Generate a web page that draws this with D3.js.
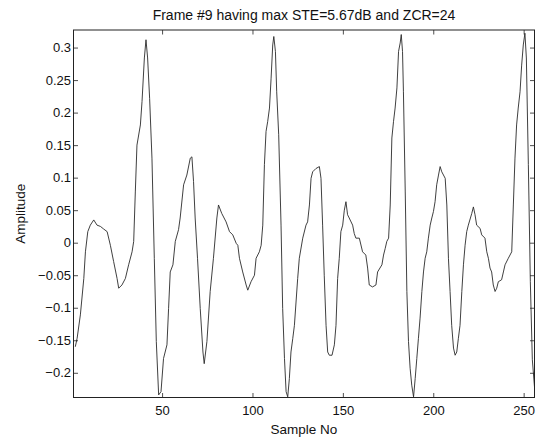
<!DOCTYPE html>
<html>
<head>
<meta charset="utf-8">
<script src="https://cdn.jsdelivr.net/npm/d3@7"></script>
<style>
  html, body { margin: 0; padding: 0; background: #fff; }
  svg { display: block; }
  text { font-family: "Liberation Sans", Arial, Helvetica, sans-serif; fill: #111; }
</style>
</head>
<body>
<svg id="chart" width="542" height="438"></svg>
<script>
// ---- data ----
const titleText = "Frame #9 having max STE=5.67dB and ZCR=24";
const xLabelText = "Sample No";
const yLabelText = "Amplitude";
const xTicks = [50, 100, 150, 200, 250];
const yTicks = [-0.2, -0.15, -0.1, -0.05, 0, 0.05, 0.1, 0.15, 0.2, 0.25, 0.3];
const xDomain = [1, 256];
const yDomain = [-0.238, 0.327];

const sampleNo = [
  2.0, 3.0, 4.8, 6.7, 7.6, 8.9, 10.3, 12.2, 14.0, 15.9, 17.7, 19.6, 21.4, 23.2, 25.1, 26.0,
  27.8, 29.7, 31.5, 33.4, 34.3, 35.2, 36.1, 38.0, 38.9, 40.2, 41.1, 42.0, 43.1, 44.4, 45.7,
  46.8, 48.1, 49.4, 50.8, 52.7, 53.6, 54.5, 56.0, 57.3, 59.1, 60.0, 61.9, 63.7, 65.6, 66.5,
  67.4, 68.3, 69.6, 71.1, 72.6, 73.3, 74.8, 76.6, 78.4, 80.3, 81.2, 83.0, 85.4, 87.3, 89.1,
  91.0, 91.9, 92.8, 94.6, 96.5, 97.4, 99.2, 101.1, 102.0, 103.8, 104.8, 105.7, 106.6, 107.5,
  108.4, 109.4, 110.3, 111.2, 111.8, 112.7, 113.4, 114.5, 115.8, 116.7, 117.7, 118.6, 119.5,
  120.4, 121.3, 122.3, 123.2, 125.0, 125.9, 127.8, 129.6, 130.5, 131.5, 132.4, 133.3, 135.1,
  137.0, 137.9, 138.8, 139.7, 140.7, 141.6, 142.5, 144.0, 145.3, 146.2, 147.1, 148.0, 148.9,
  149.9, 150.8, 151.7, 152.6, 153.5, 155.4, 156.3, 157.2, 159.1, 160.9, 162.7, 163.7, 164.6,
  166.4, 168.3, 169.2, 171.6, 172.5, 173.4, 174.3, 175.3, 176.2, 177.1, 178.0, 178.9, 179.9,
  180.8, 181.7, 182.3, 183.0, 183.5, 184.5, 185.4, 186.3, 187.2, 188.1, 189.1, 190.0, 190.9,
  191.8, 192.7, 193.7, 194.6, 195.5, 196.4, 197.3, 198.3, 199.2, 200.1, 201.0, 201.9, 202.9,
  203.8, 204.7, 206.6, 207.5, 208.4, 209.3, 210.2, 211.2, 212.1, 213.0, 213.9, 214.8, 215.8,
  216.7, 217.6, 218.5, 219.4, 221.3, 222.2, 223.1, 224.0, 225.9, 226.8, 228.6, 229.6, 230.5,
  231.4, 232.3, 233.2, 234.2, 235.1, 236.0, 237.8, 238.8, 239.7, 241.5, 243.4, 244.3, 245.2,
  246.1, 247.0, 248.0, 248.9, 249.8, 250.7, 251.5, 252.6, 253.7, 254.8, 256.0
];
const amplitude = [
  -0.160, -0.147, -0.111, -0.055, -0.014, 0.017, 0.027, 0.035, 0.027, 0.025, 0.021, 0.017, -0.004, -0.029, -0.055, -0.070,
  -0.065, -0.055, -0.034, -0.014, 0.002, 0.078, 0.150, 0.181, 0.217, 0.284, 0.312, 0.284, 0.222, 0.130, -0.024,
  -0.152, -0.234, -0.229, -0.178, -0.157, -0.101, -0.045, -0.034, 0.002, 0.020, 0.038, 0.089, 0.104, 0.130, 0.132,
  0.094, 0.038, -0.024, -0.101, -0.168, -0.186, -0.152, -0.075, -0.024, 0.038, 0.058, 0.045, 0.032, 0.017, 0.012,
  -0.001, -0.004, -0.024, -0.045, -0.065, -0.073, -0.060, -0.050, -0.024, -0.014, -0.004, 0.027, 0.120, 0.171,
  0.186, 0.207, 0.253, 0.304, 0.317, 0.294, 0.232, 0.166, 0.027, -0.101, -0.178, -0.229, -0.237,
  -0.209, -0.168, -0.147, -0.127, -0.055, -0.024, 0.007, 0.027, 0.032, 0.058, 0.099, 0.109, 0.114,
  0.117, 0.099, 0.027, -0.050, -0.127, -0.168, -0.173, -0.173, -0.157, -0.127, -0.055, -0.024, 0.017,
  0.027, 0.050, 0.063, 0.043, 0.038, 0.027, 0.014, 0.007, 0.007, -0.014, -0.019, -0.039, -0.065,
  -0.068, -0.065, -0.045, -0.034, -0.019, -0.009, 0.002, 0.007, 0.058, 0.161, 0.186, 0.207, 0.238,
  0.294, 0.307, 0.320, 0.294, 0.232, 0.078, -0.075, -0.152, -0.193, -0.219, -0.237, -0.209, -0.178,
  -0.147, -0.116, -0.075, -0.045, -0.024, -0.014, 0.007, 0.027, 0.038, 0.048, 0.063, 0.089, 0.104,
  0.117, 0.109, 0.099, 0.058, -0.024, -0.075, -0.127, -0.162, -0.173, -0.168, -0.147, -0.127, -0.075,
  -0.034, -0.004, 0.017, 0.027, 0.045, 0.055, 0.043, 0.027, 0.022, 0.012, 0.007, -0.014, -0.024,
  -0.039, -0.045, -0.065, -0.075, -0.070, -0.060, -0.057, -0.045, -0.034, -0.024, -0.014, 0.058, 0.130,
  0.181, 0.207, 0.232, 0.273, 0.304, 0.322, 0.284, 0.120, -0.060, -0.180, -0.222
];

// ---- layout ----
const plot = { left: 73.5, right: 534.5, top: 30, bottom: 397.5 };

const svg = d3.select("#chart");
const x = d3.scaleLinear().domain(xDomain).range([plot.left, plot.right]);
const y = d3.scaleLinear().domain(yDomain).range([plot.bottom, plot.top]);

const tickLen = 4.5;
const fmtY = d => (d === 0 ? "0" : d3.format("")(+d.toFixed(2)));

svg.append("clipPath").attr("id", "clip")
  .append("rect").attr("x", plot.left).attr("y", plot.top)
  .attr("width", plot.right - plot.left).attr("height", plot.bottom - plot.top);

const pts = sampleNo.map((s, i) => [s, amplitude[i]]);
svg.append("path")
  .datum(pts)
  .attr("clip-path", "url(#clip)")
  .attr("fill", "none")
  .attr("stroke", "#2a2a2a")
  .attr("stroke-width", 0.9)
  .attr("stroke-linejoin", "round")
  .attr("d", d3.line().x(d => x(d[0])).y(d => y(d[1])));

const axStyle = g => {
  g.select(".domain").remove();
  g.selectAll(".tick line").attr("stroke", "#222").attr("stroke-width", 0.8);
  g.selectAll(".tick text").attr("font-size", 13).attr("fill", "#111")
    .attr("font-family", '"Liberation Sans", Arial, sans-serif');
};

svg.append("g").attr("transform", `translate(0,${plot.bottom})`)
  .call(d3.axisBottom(x).tickValues(xTicks).tickSizeInner(-tickLen).tickSizeOuter(0).tickPadding(8).tickFormat(d3.format("d")))
  .call(axStyle);
svg.append("g").attr("transform", `translate(0,${plot.top})`)
  .call(d3.axisTop(x).tickValues(xTicks).tickSizeInner(-tickLen).tickSizeOuter(0).tickFormat(""))
  .call(axStyle);
svg.append("g").attr("transform", `translate(${plot.left},0)`)
  .call(d3.axisLeft(y).tickValues(yTicks).tickSizeInner(-tickLen).tickSizeOuter(0).tickPadding(2.5).tickFormat(fmtY))
  .call(axStyle);
svg.append("g").attr("transform", `translate(${plot.right},0)`)
  .call(d3.axisRight(y).tickValues(yTicks).tickSizeInner(-tickLen).tickSizeOuter(0).tickFormat(""))
  .call(axStyle);

svg.append("rect")
  .attr("x", plot.left).attr("y", plot.top)
  .attr("width", plot.right - plot.left).attr("height", plot.bottom - plot.top)
  .attr("fill", "none").attr("stroke", "#222").attr("stroke-width", 1);

svg.append("text").attr("x", (plot.left + plot.right) / 2).attr("y", 20)
  .attr("text-anchor", "middle").attr("font-size", 14).text(titleText);
svg.append("text").attr("x", (plot.left + plot.right) / 2).attr("y", 434)
  .attr("text-anchor", "middle").attr("font-size", 13.5).text(xLabelText);
svg.append("text").attr("transform", `translate(25,${(plot.top + plot.bottom) / 2}) rotate(-90)`)
  .attr("text-anchor", "middle").attr("font-size", 13.5).text(yLabelText);
</script>
</body>
</html>
